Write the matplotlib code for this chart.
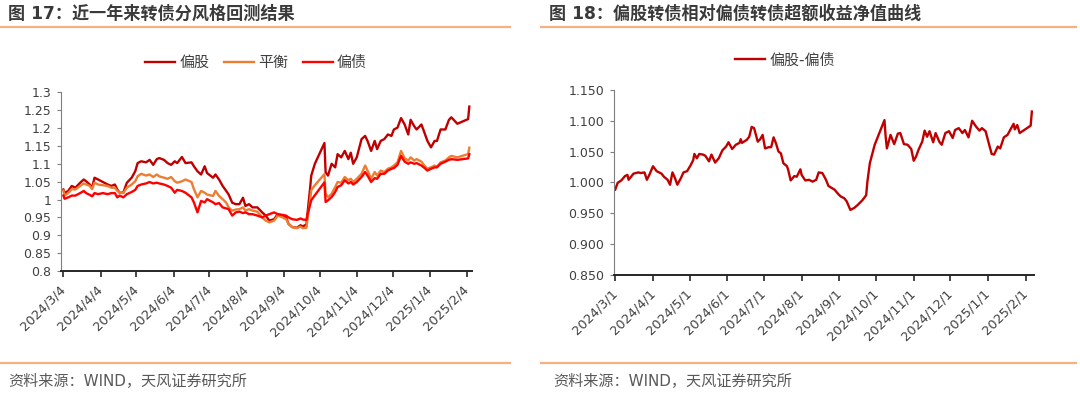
import matplotlib
matplotlib.use('Agg')
import matplotlib.pyplot as plt
from matplotlib.lines import Line2D
import pandas as pd

plt.rcParams['font.family'] = ['DejaVu Sans', 'Noto Sans CJK SC']

# ---- 图17 数据：偏股 / 平衡 / 偏债 净值 ----
left_dates = [
    '2024-03-04', '2024-03-05', '2024-03-08', '2024-03-11', '2024-03-14', '2024-03-18',
    '2024-03-21', '2024-03-23', '2024-03-26', '2024-03-28', '2024-03-30', '2024-04-02',
    '2024-04-06', '2024-04-10', '2024-04-13', '2024-04-16', '2024-04-18', '2024-04-20',
    '2024-04-23', '2024-04-26', '2024-04-30', '2024-05-03', '2024-05-05', '2024-05-08',
    '2024-05-12', '2024-05-15', '2024-05-18', '2024-05-21', '2024-05-23', '2024-05-27',
    '2024-05-30', '2024-06-02', '2024-06-05', '2024-06-07', '2024-06-11', '2024-06-14',
    '2024-06-19', '2024-06-21', '2024-06-24', '2024-06-27', '2024-06-30', '2024-07-02',
    '2024-07-07', '2024-07-09', '2024-07-12', '2024-07-15', '2024-07-18', '2024-07-20',
    '2024-07-23', '2024-07-26', '2024-07-29', '2024-08-01', '2024-08-03', '2024-08-06',
    '2024-08-09', '2024-08-13', '2024-08-17', '2024-08-20', '2024-08-23', '2024-08-27',
    '2024-08-30', '2024-09-03', '2024-09-06', '2024-09-08', '2024-09-11', '2024-09-15',
    '2024-09-18', '2024-09-20', '2024-09-23', '2024-09-24', '2024-09-26', '2024-09-27',
    '2024-09-30', '2024-10-08', '2024-10-09', '2024-10-11', '2024-10-14', '2024-10-17',
    '2024-10-19', '2024-10-22', '2024-10-25', '2024-10-28', '2024-10-30', '2024-11-01',
    '2024-11-04', '2024-11-08', '2024-11-11', '2024-11-13', '2024-11-16', '2024-11-19',
    '2024-11-21', '2024-11-24', '2024-11-27', '2024-11-30', '2024-12-03', '2024-12-05',
    '2024-12-08', '2024-12-11', '2024-12-14', '2024-12-17', '2024-12-19', '2024-12-22',
    '2024-12-24', '2024-12-28', '2024-12-30', '2025-01-02', '2025-01-05', '2025-01-08',
    '2025-01-10', '2025-01-13', '2025-01-17', '2025-01-20', '2025-01-22', '2025-01-27',
    '2025-02-05', '2025-02-06',
]
pian_gu = [
    1.028, 1.018, 1.024, 1.038, 1.033, 1.047, 1.056, 1.051, 1.042, 1.033, 1.061, 1.056,
    1.049, 1.042, 1.038, 1.042, 1.028, 1.019, 1.019, 1.047, 1.061, 1.079, 1.102, 1.107,
    1.104, 1.111, 1.097, 1.113, 1.116, 1.111, 1.102, 1.097, 1.107, 1.102, 1.119, 1.102,
    1.104, 1.093, 1.079, 1.070, 1.093, 1.074, 1.061, 1.070, 1.056, 1.038, 1.024, 1.014,
    0.991, 0.987, 0.987, 1.005, 0.982, 0.987, 0.978, 0.978, 0.964, 0.955, 0.941, 0.945,
    0.959, 0.955, 0.950, 0.932, 0.923, 0.921, 0.928, 0.925, 0.930, 0.965, 1.030, 1.067,
    1.100, 1.158, 1.076, 1.067, 1.100, 1.090, 1.127, 1.118, 1.136, 1.113, 1.131, 1.100,
    1.118, 1.169, 1.178, 1.164, 1.136, 1.164, 1.141, 1.164, 1.169, 1.182, 1.178, 1.196,
    1.201, 1.228, 1.210, 1.182, 1.223, 1.205, 1.196, 1.210, 1.192, 1.164, 1.146, 1.164,
    1.164, 1.196, 1.196, 1.223, 1.230, 1.212, 1.225, 1.260,
]
ping_heng = [
    1.025, 1.011, 1.018, 1.029, 1.028, 1.038, 1.045, 1.042, 1.038, 1.029, 1.047, 1.042,
    1.040, 1.038, 1.033, 1.033, 1.024, 1.019, 1.018, 1.033, 1.042, 1.051, 1.065, 1.072,
    1.067, 1.070, 1.063, 1.070, 1.065, 1.061, 1.058, 1.063, 1.051, 1.047, 1.051, 1.056,
    1.049, 1.029, 1.006, 1.024, 1.019, 1.014, 1.010, 1.024, 1.010, 1.001, 0.991, 0.978,
    0.969, 0.972, 0.973, 0.978, 0.969, 0.973, 0.969, 0.966, 0.950, 0.941, 0.936, 0.941,
    0.955, 0.950, 0.945, 0.932, 0.923, 0.920, 0.924, 0.920, 0.921, 0.950, 0.995, 1.026,
    1.040, 1.071, 1.016, 1.007, 1.016, 1.035, 1.049, 1.047, 1.063, 1.054, 1.058, 1.049,
    1.058, 1.072, 1.095, 1.081, 1.058, 1.077, 1.067, 1.081, 1.077, 1.086, 1.090, 1.095,
    1.104, 1.136, 1.115, 1.109, 1.118, 1.109, 1.113, 1.106, 1.097, 1.086, 1.090, 1.095,
    1.092, 1.104, 1.109, 1.118, 1.122, 1.118, 1.127, 1.145,
]
pian_zhai = [
    1.011, 1.002, 1.006, 1.011, 1.011, 1.018, 1.024, 1.018, 1.013, 1.009, 1.018, 1.015,
    1.018, 1.015, 1.018, 1.018, 1.006, 1.011, 1.006, 1.015, 1.021, 1.027, 1.038, 1.042,
    1.045, 1.049, 1.045, 1.047, 1.045, 1.042, 1.038, 1.033, 1.019, 1.027, 1.024, 1.019,
    1.006, 0.992, 0.964, 0.996, 0.992, 1.001, 0.992, 0.987, 0.990, 0.978, 0.975, 0.973,
    0.955, 0.964, 0.966, 0.962, 0.964, 0.959, 0.959, 0.955, 0.950, 0.955, 0.959, 0.964,
    0.959, 0.957, 0.955, 0.950, 0.945, 0.943, 0.947, 0.944, 0.943, 0.960, 0.985, 0.998,
    1.012, 1.048, 0.993, 0.998, 1.007, 1.021, 1.035, 1.040, 1.054, 1.045, 1.049, 1.042,
    1.049, 1.063, 1.077, 1.067, 1.049, 1.060, 1.058, 1.072, 1.072, 1.081, 1.086, 1.088,
    1.097, 1.122, 1.106, 1.100, 1.104, 1.100, 1.102, 1.095, 1.090, 1.081, 1.086, 1.090,
    1.090, 1.100, 1.106, 1.111, 1.113, 1.111, 1.115, 1.127,
]
left_tick_labels = ['2024/3/4', '2024/4/4', '2024/5/4', '2024/6/4', '2024/7/4', '2024/8/4',
                    '2024/9/4', '2024/10/4', '2024/11/4', '2024/12/4', '2025/1/4', '2025/2/4']
left_yticks = [0.8, 0.85, 0.9, 0.95, 1.0, 1.05, 1.1, 1.15, 1.2, 1.25, 1.3]

# ---- 图18 数据：偏股-偏债 超额收益净值 ----
right_dates = [
    '2024-03-01', '2024-03-03', '2024-03-06', '2024-03-09', '2024-03-11', '2024-03-12',
    '2024-03-16', '2024-03-20', '2024-03-22', '2024-03-25', '2024-03-27', '2024-03-29',
    '2024-04-01', '2024-04-04', '2024-04-08', '2024-04-10', '2024-04-13', '2024-04-15',
    '2024-04-17', '2024-04-19', '2024-04-21', '2024-04-24', '2024-04-26', '2024-04-29',
    '2024-05-02', '2024-05-04', '2024-05-05', '2024-05-07', '2024-05-09', '2024-05-12',
    '2024-05-14', '2024-05-17', '2024-05-19', '2024-05-22', '2024-05-25', '2024-05-28',
    '2024-05-31', '2024-06-02', '2024-06-05', '2024-06-08', '2024-06-11', '2024-06-12',
    '2024-06-13', '2024-06-17', '2024-06-19', '2024-06-21', '2024-06-23', '2024-06-26',
    '2024-06-28', '2024-06-30', '2024-07-02', '2024-07-05', '2024-07-07', '2024-07-09',
    '2024-07-11', '2024-07-13', '2024-07-15', '2024-07-17', '2024-07-20', '2024-07-21',
    '2024-07-23', '2024-07-26', '2024-07-28', '2024-07-31', '2024-08-01', '2024-08-04',
    '2024-08-07', '2024-08-10', '2024-08-13', '2024-08-15', '2024-08-18', '2024-08-21',
    '2024-08-23', '2024-08-28', '2024-08-31', '2024-09-02', '2024-09-05', '2024-09-07',
    '2024-09-10', '2024-09-13', '2024-09-16', '2024-09-20', '2024-09-23', '2024-09-24',
    '2024-09-26', '2024-09-30', '2024-10-08', '2024-10-09', '2024-10-10', '2024-10-13',
    '2024-10-16', '2024-10-19', '2024-10-21', '2024-10-24', '2024-10-27', '2024-10-30',
    '2024-11-01', '2024-11-03', '2024-11-05', '2024-11-08', '2024-11-10', '2024-11-12',
    '2024-11-14', '2024-11-17', '2024-11-19', '2024-11-22', '2024-11-24', '2024-11-27',
    '2024-11-30', '2024-12-03', '2024-12-05', '2024-12-08', '2024-12-11', '2024-12-13',
    '2024-12-16', '2024-12-19', '2024-12-22', '2024-12-25', '2024-12-27', '2024-12-30',
    '2025-01-02', '2025-01-04', '2025-01-06', '2025-01-09', '2025-01-11', '2025-01-14',
    '2025-01-17', '2025-01-20', '2025-01-22', '2025-01-23', '2025-01-25', '2025-01-27',
    '2025-02-05', '2025-02-06',
]
excess = [
    0.988, 0.999, 1.003, 1.010, 1.012, 1.004, 1.014, 1.016, 1.015, 1.016, 1.004, 1.012,
    1.026, 1.018, 1.014, 1.009, 1.004, 0.996, 1.016, 1.007, 0.996, 1.007, 1.016, 1.018,
    1.028, 1.036, 1.046, 1.039, 1.046, 1.045, 1.043, 1.034, 1.045, 1.032, 1.039, 1.052,
    1.058, 1.065, 1.054, 1.061, 1.064, 1.070, 1.064, 1.069, 1.074, 1.090, 1.088, 1.066,
    1.070, 1.077, 1.055, 1.057, 1.057, 1.073, 1.063, 1.050, 1.047, 1.031, 1.026, 1.020,
    1.003, 1.010, 1.009, 1.021, 1.012, 1.003, 1.004, 1.001, 1.004, 1.016, 1.015, 1.004,
    0.994, 0.988, 0.981, 0.977, 0.974, 0.969, 0.955, 0.958, 0.963, 0.971, 0.979, 1.001,
    1.031, 1.061, 1.101, 1.074, 1.055, 1.077, 1.062, 1.079, 1.080, 1.062, 1.061, 1.054,
    1.035, 1.042, 1.053, 1.066, 1.084, 1.074, 1.083, 1.065, 1.080, 1.066, 1.061, 1.080,
    1.083, 1.072, 1.085, 1.088, 1.080, 1.085, 1.073, 1.100, 1.091, 1.084, 1.088, 1.083,
    1.061, 1.046, 1.045, 1.058, 1.055, 1.073, 1.077, 1.088, 1.095, 1.086, 1.093, 1.080,
    1.092, 1.115,
]
right_tick_labels = ['2024/3/1', '2024/4/1', '2024/5/1', '2024/6/1', '2024/7/1', '2024/8/1',
                     '2024/9/1', '2024/10/1', '2024/11/1', '2024/12/1', '2025/1/1', '2025/2/1']
right_yticks = [0.85, 0.9, 0.95, 1.0, 1.05, 1.1, 1.15]

W, H = 1080, 395
TXT = '#404040'
RULE = '#F5B183'


def style_axes(ax):
    ax.spines['top'].set_visible(False)
    ax.spines['right'].set_visible(False)
    ax.spines['left'].set_color('#7f7f7f')
    ax.spines['left'].set_linewidth(0.8)
    ax.spines['bottom'].set_color('#262626')
    ax.spines['bottom'].set_linewidth(1.4)
    ax.tick_params(axis='y', direction='out', length=3, width=0.8, color='#7f7f7f',
                   labelsize=9, labelcolor=TXT, pad=4)
    ax.tick_params(axis='x', direction='out', length=4, width=1.2, color='#262626',
                   labelsize=9.3, labelcolor=TXT, pad=2)


fig = plt.figure(figsize=(W / 100, H / 100), dpi=100)

# ---------- 图17 ----------
ax1 = fig.add_axes([61 / W, 1 - 271 / H, 410.7 / W, 178.7 / H])
d1 = pd.to_datetime(left_dates)
ax1.plot(d1, pian_gu, color='#C00000', lw=1.7, label='偏股')
ax1.plot(d1, ping_heng, color='#ED7D31', lw=1.7, label='平衡')
ax1.plot(d1, pian_zhai, color='#FF0000', lw=1.7, label='偏债')
ax1.set_ylim(0.8, 1.3)
ax1.set_yticks(left_yticks, ['%g' % v for v in left_yticks])
ax1.set_xlim(pd.Timestamp('2024-03-02'), pd.Timestamp('2025-02-08'))
style_axes(ax1)
ax1.set_xticks(pd.to_datetime(left_tick_labels, format='%Y/%m/%d'), left_tick_labels,
               rotation=45, ha='right', va='center', rotation_mode='anchor')
for lab in ax1.get_xticklabels():
    lab.set_y(-0.045)
ax1.legend(loc='center', bbox_to_anchor=(256 / W, 1 - 62.5 / H), bbox_transform=fig.transFigure,
           ncol=3, frameon=False, fontsize=10.8, handlelength=2.0, handletextpad=0.25,
           columnspacing=1.0, labelcolor=TXT)

# ---------- 图18 ----------
ax2 = fig.add_axes([614 / W, 1 - 274.5 / H, 420.3 / W, 184.5 / H])
d2 = pd.to_datetime(right_dates)
ax2.plot(d2, excess, color='#C00000', lw=1.7, label='偏股-偏债')
ax2.set_ylim(0.85, 1.15)
ax2.set_yticks(right_yticks, ['%.3f' % v for v in right_yticks])
ax2.set_xlim(pd.Timestamp('2024-02-29'), pd.Timestamp('2025-02-08'))
style_axes(ax2)
ax2.set_xticks(pd.to_datetime(right_tick_labels, format='%Y/%m/%d'), right_tick_labels,
               rotation=45, ha='right', va='center', rotation_mode='anchor')
for lab in ax2.get_xticklabels():
    lab.set_y(-0.045)
ax2.legend(loc='center', bbox_to_anchor=(785 / W, 1 - 60 / H), bbox_transform=fig.transFigure,
           frameon=False, fontsize=10.8, handlelength=2.0, handletextpad=0.25, labelcolor=TXT)

# ---------- 标题、分隔线、来源 ----------
fig.text(8 / W, 1 - 14 / H, '图 17：近一年来转债分风格回测结果', fontsize=12.3, fontweight='bold',
         color='#3a3a3a', va='center', ha='left')
fig.text(549 / W, 1 - 14 / H, '图 18：偏股转债相对偏债转债超额收益净值曲线', fontsize=12.3,
         fontweight='bold', color='#3a3a3a', va='center', ha='left')
for x0, x1 in [(0, 510), (541, 1076)]:
    for yy in (26.5, 362.7):
        fig.add_artist(Line2D([x0 / W, x1 / W], [1 - yy / H, 1 - yy / H], transform=fig.transFigure,
                              color=RULE, lw=1.6))
fig.text(8 / W, 1 - 381 / H, '资料来源：WIND，天风证券研究所', fontsize=10.9, color='#595959',
         va='center', ha='left')
fig.text(553 / W, 1 - 381 / H, '资料来源：WIND，天风证券研究所', fontsize=10.9, color='#595959',
         va='center', ha='left')

fig.savefig('out.png', dpi=100)
